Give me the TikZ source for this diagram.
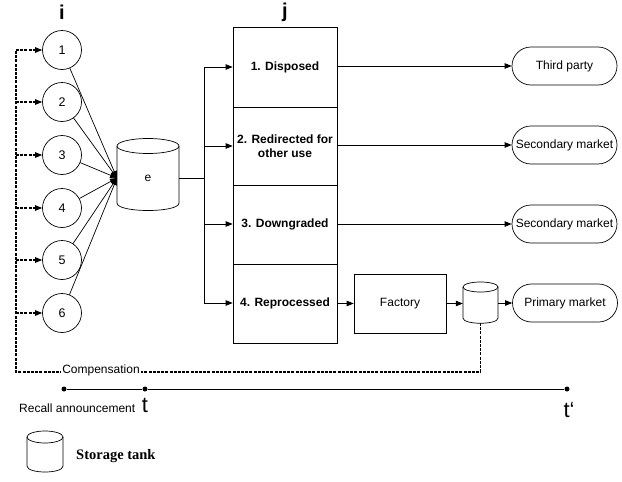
\documentclass[tikz,border=0pt]{standalone}
\usepackage{fontspec}
\setmainfont{Liberation Sans}
\newfontfamily\tms{Liberation Serif}
\usetikzlibrary{arrows.meta}
\begin{document}
\begin{tikzpicture}[x=1pt,y=-1pt,
  every node/.style={font=\fontsize{12}{14}\selectfont},
  ln/.style={line width=0.7pt},
  arr/.style={ln,-{Triangle[length=7pt,width=5.5pt]}},
  dsh/.style={line width=1.1pt,dash pattern=on 3pt off 1.2pt},
  darr/.style={dsh,-{Triangle[length=7pt,width=5.5pt]}},
  src/.style={circle,draw,ln,minimum size=39pt,inner sep=0pt,font=\fontsize{12.5}{14}\selectfont},
  rowbox/.style={rectangle,draw,ln,minimum width=104pt,inner sep=0pt,font=\fontsize{12}{14.5}\selectfont\bfseries,align=center},
  oval/.style={rectangle,draw,ln,rounded corners=19pt,minimum width=105pt,minimum height=38pt,inner sep=0pt},
  big/.style={font=\fontsize{22}{24}\selectfont},
  dot/.style={circle,fill,inner sep=0pt,minimum size=5pt}
]
\useasboundingbox (0,0) rectangle (622,482);

% labels i, j
\node[font=\fontsize{20}{22}\selectfont\bfseries] (li) at (62,12) {i};
\node[font=\fontsize{20}{22}\selectfont\bfseries] (lj) at (285,12) {j};

% source circles
\node[src] (c1) at (62,50) {1};
\node[src] (c2) at (62,102) {2};
\node[src] (c3) at (62,155) {3};
\node[src] (c4) at (62,208) {4};
\node[src] (c5) at (62,260) {5};
\node[src] (c6) at (62,313) {6};

% tank e
\draw[ln] (117,146) -- (117,203) .. controls (117,213) and (179,213) .. (179,203) -- (179,146);
\draw[ln] (148,146) ellipse [x radius=31pt, y radius=7.5pt];
\node[rectangle,minimum width=62pt,minimum height=65pt,inner sep=0pt] (e) at (148,178) {e};
\coordinate (ein) at (117,178);

\foreach \c in {c1,c2,c3,c4,c5,c6} \draw[arr] (\c) -- (ein);

% j boxes
\node[rowbox,minimum height=80pt] (b1) at (285,67) {1. Disposed};
\node[rowbox,minimum height=78pt] (b2) at (285,146) {2. Redirected for\\other use};
\node[rowbox,minimum height=79pt] (b3) at (285,224.5) {3. Downgraded};
\node[rowbox,minimum height=79pt] (b4) at (285,303.5) {4. Reprocessed};

% distribution
\coordinate (split) at (204,178);
\draw[ln] (e.east) -- (split);
\draw[ln] (204,67) -- (204,303);
\draw[arr] (204,67) -- (b1.west |- 204,67);
\draw[arr] (204,146) -- (b2.west |- 204,146);
\draw[arr] (204,224) -- (b3.west |- 204,224);
\draw[arr] (204,303) -- (b4.west |- 204,303);

% outputs
\node[oval] (o1) at (564.5,66) {Third party};
\node[oval] (o2) at (564.5,145) {Secondary market};
\node[oval] (o3) at (564.5,224) {Secondary market};
\node[oval] (o4) at (565,303) {Primary market};
\draw[arr] (b1.east |- o1) -- (o1);
\draw[arr] (b2.east |- o2) -- (o2);
\draw[arr] (b3.east |- o3) -- (o3);

% factory and small tank
\node[rectangle,draw,ln,minimum width=92pt,minimum height=59pt,inner sep=0pt] (fac) at (400,303.5) {Factory};
\draw[ln] (463,287) -- (463,318) .. controls (463,325) and (498,325) .. (498,318) -- (498,287);
\draw[ln] (480.5,287) ellipse [x radius=17.5pt, y radius=5pt];
\node[rectangle,minimum width=35pt,minimum height=41pt,inner sep=0pt] (st) at (480.5,303) {};
\draw[arr] (b4.east |- fac) -- (fac);
\draw[arr] (fac.east) -- (st.west |- fac.east);
\draw[arr] (st.east |- o4) -- (o4);

% compensation loop
\coordinate (cb) at (480.5,323);
\coordinate (cr) at (480.5,372);
\coordinate (cl) at (16,372);
\coordinate (ct) at (16,50);
\draw[dsh] (cb) -- (cr) -- (cl) -- (ct);
\foreach \c in {c1,c2,c3,c4,c5,c6} \draw[darr] (16,0 |- \c) -- (\c);
\node[fill=white,inner sep=1pt] (comp) at (101,370) {Compensation};

% timeline
\node[dot] (t0) at (64,389) {};
\node[dot] (t1) at (145,389) {};
\node[dot] (t2) at (567,389) {};
\draw[ln] (t0) -- (t1) -- (t2);
\node[anchor=west,inner sep=0pt] (ra) at (19,408) {Recall announcement};
\node[big,inner sep=0pt] (tl) at (145,405) {t};
\node[big,inner sep=0pt] (tp) at (569,410) {t‘};

% legend
\draw[ln] (27,437) -- (27,466) .. controls (27,474) and (63,474) .. (63,466) -- (63,437);
\draw[ln] (45,437) ellipse [x radius=18pt, y radius=6pt];
\node[anchor=west,inner sep=0pt,font=\tms\fontsize{14.5}{16}\selectfont\bfseries] (lg) at (76,456) {Storage tank};
\end{tikzpicture}
\end{document}
